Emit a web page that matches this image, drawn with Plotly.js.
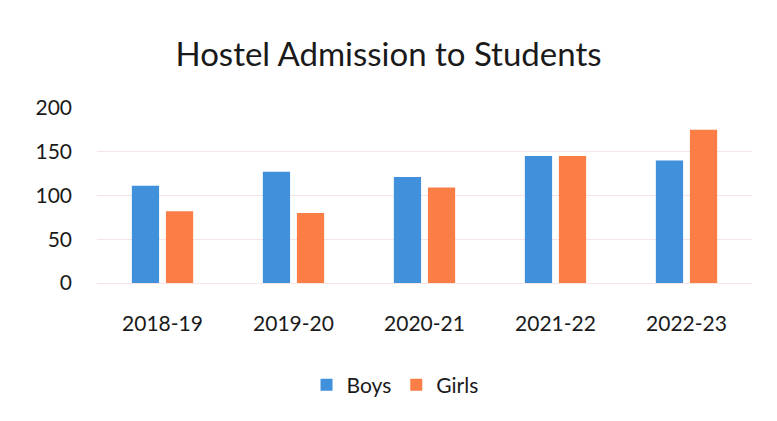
<!DOCTYPE html>
<html>
<head>
<meta charset="utf-8">
<script src="https://cdn.plot.ly/plotly-3.0.1.min.js"></script>
<style>html,body{margin:0;padding:0;background:#fff;}#chart{width:777px;height:421px;}</style>
</head>
<body>
<div id="chart"></div>
<script>
const categories = ["2018-19", "2019-20", "2020-21", "2021-22", "2022-23"];
const boys = [111, 127, 121, 145, 140];
const girls = [82, 80, 109, 145, 175];
const yTicks = [0, 50, 100, 150, 200];

const font = "Lato, 'Open Sans', 'DejaVu Sans', sans-serif";
const data = [
  {type: "bar", name: "Boys", x: categories, y: boys, marker: {color: "#4190dc"}},
  {type: "bar", name: "Girls", x: categories, y: girls, marker: {color: "#fa7e45"}}
];
const layout = {
  width: 777, height: 421,
  paper_bgcolor: "#ffffff", plot_bgcolor: "#ffffff",
  margin: {l: 97, r: 25, t: 107, b: 138},
  title: {text: "Hostel Admission to Students", font: {family: font, size: 33, color: "#1a1a1a"}, x: 0.5, xanchor: "center", y: 0.87, yanchor: "middle"},
  barmode: "group", bargap: 0.48, bargroupgap: 0.2,
  showlegend: true,
  legend: {orientation: "h", x: 0.455, xanchor: "center", y: -0.58, yanchor: "middle", font: {family: font, size: 21, color: "#1a1a1a"}, itemwidth: 30},
  xaxis: {type: "category", tickvals: categories, showgrid: false, zeroline: false, showline: false, ticks: "", ticklabelstandoff: 26, tickfont: {family: font, size: 21, color: "#1a1a1a"}},
  yaxis: {range: [0, 201], tickvals: yTicks, ticktext: yTicks.map(String), showgrid: true, gridcolor: "#f7e4e4", gridwidth: 1, zeroline: true, zerolinecolor: "#f7e4e4", showline: false, ticks: "", ticklabelstandoff: 24, tickfont: {family: font, size: 21, color: "#1a1a1a"}}
};
Plotly.newPlot("chart", data, layout, {displayModeBar: false, staticPlot: true});
</script>
</body>
</html>
